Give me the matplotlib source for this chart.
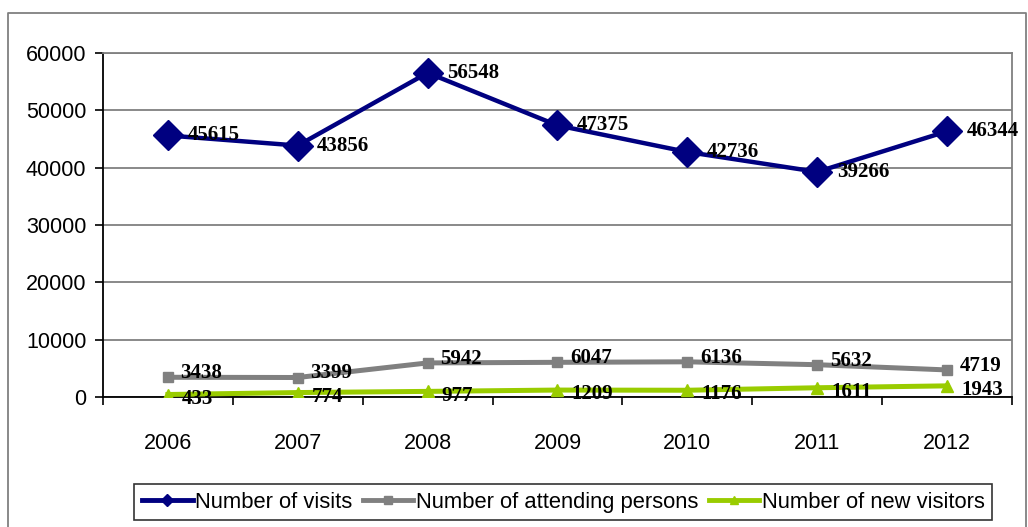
import matplotlib.pyplot as plt
from matplotlib.lines import Line2D

years = ["2006", "2007", "2008", "2009", "2010", "2011", "2012"]
visits = [45615, 43856, 56548, 47375, 42736, 39266, 46344]
attending = [3438, 3399, 5942, 6047, 6136, 5632, 4719]
new_visitors = [433, 774, 977, 1209, 1176, 1611, 1943]

y_ticks = [0, 10000, 20000, 30000, 40000, 50000, 60000]

NAVY = "#000080"
GRAY = "#808080"
GREEN = "#99CC00"

plt.rcParams["font.family"] = ["Liberation Sans", "DejaVu Sans"]

fig = plt.figure(figsize=(10.28, 5.27), dpi=100)
ax = fig.add_axes([0.1002, 0.2467, 0.8842, 0.6527])

x = list(range(len(years)))

# values, colour, marker, marker size, line width, label, label offset (x, y)
series = [
    (visits, NAVY, "D", 15, 3.2, "Number of visits", (14, 0)),
    (attending, GRAY, "s", 7, 3.6, "Number of attending persons", (9, 3)),
    (new_visitors, GREEN, "^", 8, 3.6, "Number of new visitors", (10, -3)),
]

handles = []
for vals, col, mk, ms, lw, lab, off in series:
    ax.plot(x, vals, color=col, marker=mk, markersize=ms, linewidth=lw, zorder=3)
    handles.append(Line2D([], [], color=col, marker=mk, markersize=6,
                          linewidth=3.5, label=lab))
    for xi, v in zip(x, vals):
        ax.annotate(str(v), (xi, v), xytext=off, textcoords="offset points",
                    ha="left", va="center", fontsize=15, fontweight="bold",
                    family=["Liberation Serif", "DejaVu Serif"], zorder=4,
                    annotation_clip=False)

ax.set_xlim(-0.5, len(years) - 0.5)
ax.set_ylim(0, 60000)
ax.set_yticks(y_ticks)
ax.set_yticklabels([str(t) for t in y_ticks], fontsize=15.5)
ax.set_xticks(x)
ax.set_xticklabels(years, fontsize=15.5)
ax.tick_params(axis="x", length=0, pad=26)
ax.tick_params(axis="y", length=6, width=1.2, direction="out", pad=6)

# tick marks between categories on the x axis
ax.set_xticks([i + 0.5 for i in range(-1, len(years))], minor=True)
ax.tick_params(axis="x", which="minor", length=6, width=1.2, direction="out")

ax.grid(axis="y", color=GRAY, linewidth=1.3)
ax.set_axisbelow(True)
for side in ["top", "right"]:
    ax.spines[side].set_color(GRAY)
    ax.spines[side].set_linewidth(1.3)
for side in ["left", "bottom"]:
    ax.spines[side].set_color("black")
    ax.spines[side].set_linewidth(1.3)

# outer chart frame
fw, fh = 1028.0, 527.0
frame_x = [8 / fw, 8 / fw, 1026 / fw, 1026 / fw]
frame_y = [0, 1 - 13 / fh, 1 - 13 / fh, 0]
fig.add_artist(Line2D(frame_x, frame_y, color=GRAY, linewidth=1.3,
                      transform=fig.transFigure))

leg = fig.legend(handles=handles, loc="center", bbox_to_anchor=(0.548, 0.0474),
                 ncol=3, fontsize=15.8, frameon=True, fancybox=False,
                 edgecolor="black", handlelength=2.3, handletextpad=0.1,
                 columnspacing=0.5, borderpad=0.35)
leg.get_frame().set_linewidth(1.2)

fig.savefig("out.png", dpi=100)
